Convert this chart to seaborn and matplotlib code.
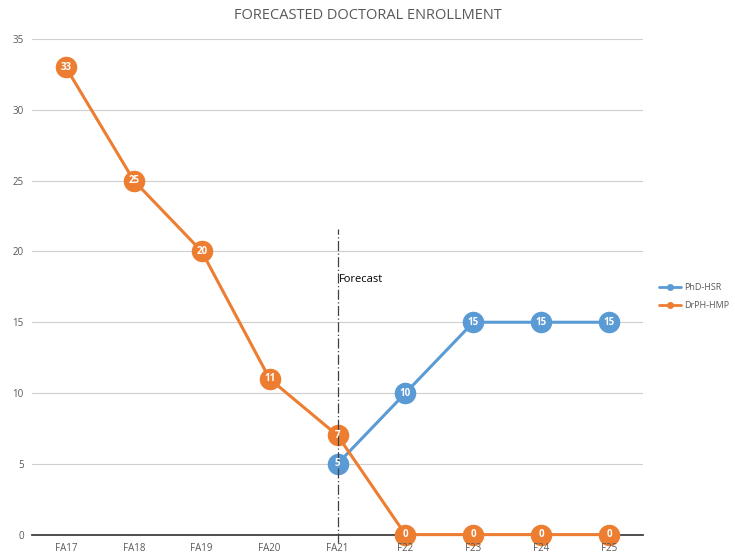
import numpy as np
import pandas as pd
import matplotlib
matplotlib.use("Agg")
import matplotlib.pyplot as plt
import seaborn as sns
from matplotlib.lines import Line2D

# chart data
terms = ["FA17", "FA18", "FA19", "FA20", "FA21", "F22", "F23", "F24", "F25"]
phd_hsr = [np.nan, np.nan, np.nan, np.nan, 5, 10, 15, 15, 15]
drph_hmp = [33, 25, 20, 11, 7, 0, 0, 0, 0]
series_names = ["PhD-HSR", "DrPH-HMP"]
forecast_term = "FA21"

BLUE = "#5B9BD5"
ORANGE = "#ED7D31"

sns.set_theme(style="white")
plt.rcParams["font.family"] = ["Open Sans", "DejaVu Sans"]

df = pd.DataFrame({
    "pos": list(range(len(terms))) * 2,
    "value": phd_hsr + drph_hmp,
    "series": [series_names[0]] * len(terms) + [series_names[1]] * len(terms),
}).dropna()

fig = plt.figure(figsize=(7.35, 5.54), dpi=100)
ax = fig.add_axes([0.0435, 0.035, 0.8315, 0.8945])

sns.lineplot(data=df, x="pos", y="value", hue="series", hue_order=series_names,
             palette=[BLUE, ORANGE], marker="o", markersize=15.5, markeredgewidth=0,
             linewidth=2.2, sort=False, legend=False, ax=ax, zorder=3)
# let the markers sitting on zero show in full
for ln in ax.get_lines():
    ln.set_clip_on(False)

# data labels
for name, vals in zip(series_names, [phd_hsr, drph_hmp]):
    for i, v in enumerate(vals):
        if np.isnan(v):
            continue
        ax.text(i, v, f"{int(v)}", color="white", fontsize=7, fontweight="bold",
                ha="center", va="center", zorder=5)

# forecast marker line
fx = terms.index(forecast_term)
ax.plot([fx, fx], [-0.6, 21.6], color="#404040", linestyle=(0, (8, 2, 1, 2)),
        linewidth=0.9, zorder=4, clip_on=False)
ax.text(fx + 0.02, 18, "Forecast", fontsize=8, color="black", ha="left", va="center")

ax.set_xlim(-0.5, len(terms) - 0.5)
ax.set_ylim(0, 35)
ax.set_yticks(range(0, 36, 5))
ax.set_xticks(range(len(terms)))
ax.set_xticklabels(terms)
ax.grid(axis="y", color="#CFCFCF", linewidth=0.8)
ax.set_axisbelow(True)
for s in ["top", "right", "left"]:
    ax.spines[s].set_visible(False)
ax.spines["bottom"].set_color("#404040")
ax.spines["bottom"].set_linewidth(1.3)
ax.spines["bottom"].set_zorder(2)
ax.tick_params(axis="y", length=0, labelsize=7, colors="#595959", pad=6)
ax.tick_params(axis="x", length=0, labelsize=7, colors="#595959", pad=6)
# keep the category labels on top of the zero markers
ax.xaxis.set_zorder(6)
ax.set_xlabel("")
ax.set_ylabel("")

fig.suptitle("FORECASTED DOCTORAL ENROLLMENT", x=0.5, y=0.985, fontsize=10.5,
             color="#595959")

handles = [Line2D([0], [0], color=BLUE, marker="o", markersize=4, linewidth=2),
           Line2D([0], [0], color=ORANGE, marker="o", markersize=4, linewidth=2)]
fig.legend(handles, series_names, loc="center left", bbox_to_anchor=(0.885, 0.465),
           frameon=False, fontsize=6.5, handlelength=2.5, labelspacing=1.0,
           handletextpad=0.3, labelcolor="#595959")

fig.savefig("out.png", dpi=100)
